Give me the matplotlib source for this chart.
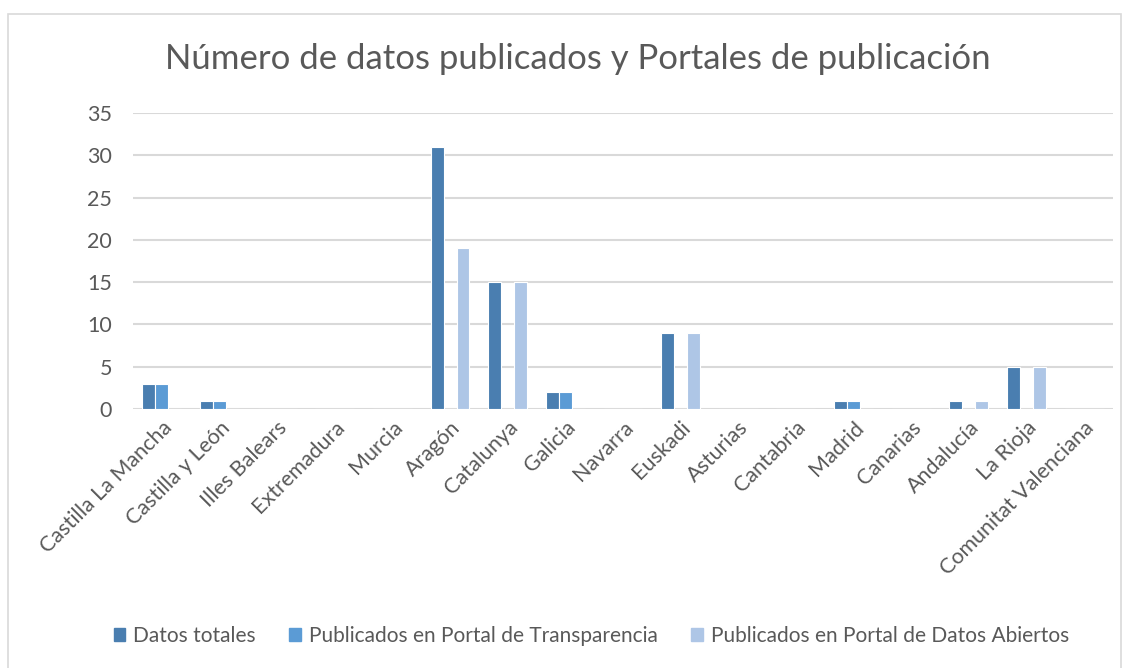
import numpy as np
import matplotlib.pyplot as plt
from matplotlib.patches import Rectangle, Patch

# Data
regiones = ['Castilla La Mancha', 'Castilla y León', 'Illes Balears', 'Extremadura',
            'Murcia', 'Aragón', 'Catalunya', 'Galicia', 'Navarra', 'Euskadi',
            'Asturias', 'Cantabria', 'Madrid', 'Canarias', 'Andalucía', 'La Rioja',
            'Comunitat Valenciana']
datos_totales = [3, 1, 0, 0, 0, 31, 15, 2, 0, 9, 0, 0, 1, 0, 1, 5, 0]
portal_transparencia = [3, 1, 0, 0, 0, 0, 0, 2, 0, 0, 0, 0, 1, 0, 0, 0, 0]
portal_abiertos = [0, 0, 0, 0, 0, 19, 15, 0, 0, 9, 0, 0, 0, 0, 1, 5, 0]
series_names = ['Datos totales', 'Publicados en Portal de Transparencia',
                'Publicados en Portal de Datos Abiertos']
colors = ['#4a7eb0', '#5b9bd5', '#aec6e6']
grey = '#595959'

plt.rcParams['font.family'] = ['Lato', 'DejaVu Sans']

fig = plt.figure(figsize=(11.31, 6.68), dpi=100)
ax = fig.add_axes([0.1176, 0.3877, 0.8664, 0.4431])

x = np.arange(len(regiones))
slot = 0.225
for k, vals in enumerate([datos_totales, portal_transparencia, portal_abiertos]):
    ax.bar(x + (k - 1) * slot, vals, width=slot, color=colors[k],
           edgecolor='white', linewidth=0.8, zorder=3)

ax.set_xlim(-0.5, len(regiones) - 0.5)
ax.set_ylim(0, 35)
ax.set_yticks(range(0, 36, 5))
ax.grid(axis='y', color='#d9d9d9', linewidth=1.5, zorder=0)
for s in ax.spines.values():
    s.set_visible(False)
ax.tick_params(axis='both', length=0, labelcolor=grey, labelsize=15.5)
ax.tick_params(axis='y', pad=15)
ax.tick_params(axis='x', pad=6)
ax.set_xticks(x)
ax.set_xticklabels(regiones, rotation=45, ha='right', rotation_mode='anchor')

fig.text(0.511, 0.911, 'Número de datos publicados y Portales de publicación',
         ha='center', va='center', fontsize=25, color=grey)

handles = [Patch(color=c) for c in colors]
fig.legend(handles, series_names, loc='center', bbox_to_anchor=(0.523, 0.048),
           ncol=3, frameon=False, fontsize=15, labelcolor=grey,
           handlelength=0.55, handleheight=0.55, handletextpad=0.4, columnspacing=1.6)

fig.patches.append(Rectangle((8 / 1131, -0.01), 1113 / 1131, 1 - 14 / 668 + 0.01,
                             transform=fig.transFigure, fill=False,
                             edgecolor='#d9d9d9', linewidth=1.2))

fig.savefig('out.png', dpi=100)
